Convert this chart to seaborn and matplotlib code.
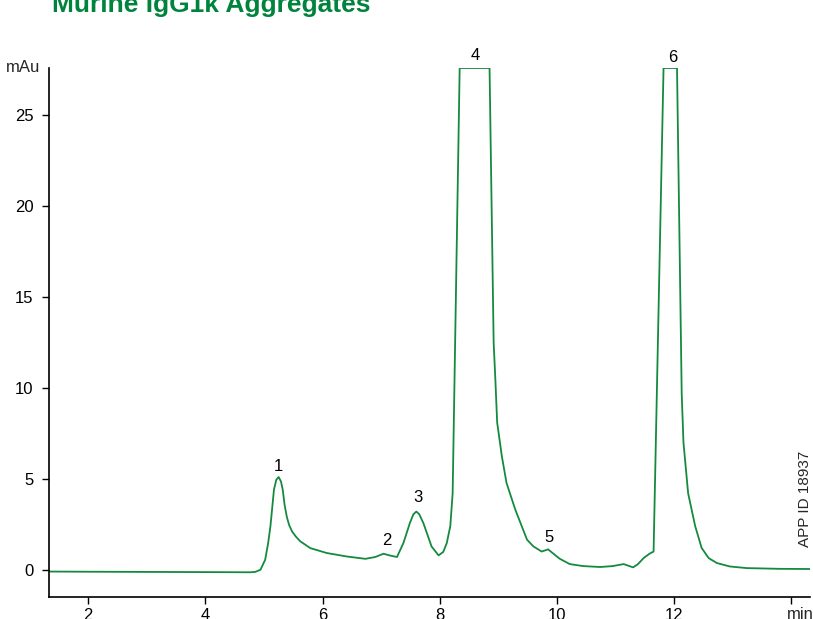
import matplotlib
matplotlib.use("Agg")
import matplotlib.pyplot as plt
import seaborn as sns
import pandas as pd

# Size-exclusion chromatogram of murine IgG1k (UV absorbance, detector-clipped above ~27.6 mAu)
retention_min = [
    1.33, 2.0, 3.0, 4.0, 4.76, 4.85, 4.94, 5.02, 5.07, 5.11, 5.17, 5.21, 5.25, 5.29,
    5.32, 5.35, 5.39, 5.43, 5.48, 5.55, 5.62, 5.79, 6.07, 6.41, 6.73, 6.9, 7.04, 7.14,
    7.27, 7.38, 7.49, 7.55, 7.6, 7.65, 7.72, 7.86, 7.98, 8.06, 8.12, 8.18, 8.22, 8.34,
    8.85, 8.92, 8.95, 8.98, 9.06, 9.14, 9.29, 9.49, 9.6, 9.74, 9.85, 9.96, 10.05, 10.22,
    10.45, 10.74, 10.95, 11.14, 11.22, 11.3, 11.38, 11.48, 11.58, 11.65, 11.82, 12.05,
    12.13, 12.16, 12.24, 12.36, 12.47, 12.59, 12.73, 12.95, 13.24, 13.8, 14.32,
]
absorbance_mau = [
    -0.10, -0.11, -0.12, -0.13, -0.14, -0.12, 0.0, 0.55, 1.45, 2.4, 4.4, 4.95, 5.1, 4.85,
    4.4, 3.6, 2.9, 2.45, 2.1, 1.8, 1.56, 1.19, 0.92, 0.73, 0.6, 0.7, 0.88, 0.79,
    0.7, 1.47, 2.57, 3.05, 3.2, 3.05, 2.57, 1.28, 0.79, 0.98, 1.47, 2.4, 4.2, 27.6,
    27.6, 12.5, 10.4, 8.1, 6.24, 4.77, 3.3, 1.65, 1.28, 1.0, 1.12, 0.83, 0.6, 0.31,
    0.2, 0.15, 0.2, 0.31, 0.22, 0.13, 0.3, 0.64, 0.88, 1.0, 27.6, 27.6,
    9.7, 7.0, 4.2, 2.4, 1.2, 0.64, 0.37, 0.18, 0.09, 0.05, 0.04,
]

# Peak numbers and where their labels sit
peak_labels = ["1", "2", "3", "4", "5", "6"]
peak_x = [5.24, 7.09, 7.63, 8.6, 9.87, 11.97]
peak_y = [5.7, 1.6, 3.95, 28.3, 1.75, 28.2]

x_ticks = [2, 4, 6, 8, 10, 12, 14]
x_tick_labels = ["2", "4", "6", "8", "10", "12", ""]
y_ticks = [0, 5, 10, 15, 20, 25]

GREEN = "#148a3e"
TITLE_GREEN = "#00843d"

sns.set_style("ticks")
plt.rcParams["font.family"] = ["Liberation Sans", "DejaVu Sans"]

df = pd.DataFrame({"min": retention_min, "mAu": absorbance_mau})

fig = plt.figure(figsize=(8.13, 6.19), dpi=100)
ax = fig.add_axes([49 / 813, 1 - 597 / 619, (810 - 49) / 813, (597 - 68) / 619])

sns.lineplot(data=df, x="min", y="mAu", ax=ax, color=GREEN, linewidth=1.3,
             sort=False, estimator=None)

ax.set_xlim(1.33, 14.32)
ax.set_ylim(-1.5, 27.6)
ax.set_xticks(x_ticks)
ax.set_xticklabels(x_tick_labels)
ax.set_yticks(y_ticks)
ax.set_xlabel("")
ax.set_ylabel("")
ax.tick_params(axis="both", labelsize=12, length=5, width=1, colors="black", pad=3)
ax.tick_params(axis="y", pad=6)
for side in ("top", "right"):
    ax.spines[side].set_visible(False)
for side in ("left", "bottom"):
    ax.spines[side].set_linewidth(1.2)
    ax.spines[side].set_color("black")

for lab, px, py in zip(peak_labels, peak_x, peak_y):
    ax.text(px, py, lab, ha="center", va="center", fontsize=12, color="black",
            clip_on=False)

ax.text(14.15, -2.05, "min", ha="center", va="top", fontsize=12, clip_on=False)
ax.text(-0.011, 1.0, "mAu", transform=ax.transAxes, ha="right", va="center",
        fontsize=12)
ax.text(14.24, 3.9, "APP ID 18937", rotation=90, ha="center", va="center",
        fontsize=11, clip_on=False)

fig.text(52 / 813, 1 - 12 / 619, "Murine IgG1κ Aggregates", ha="left",
         va="baseline", fontsize=19, fontweight="bold", color=TITLE_GREEN)

fig.savefig("out.png", dpi=100)
